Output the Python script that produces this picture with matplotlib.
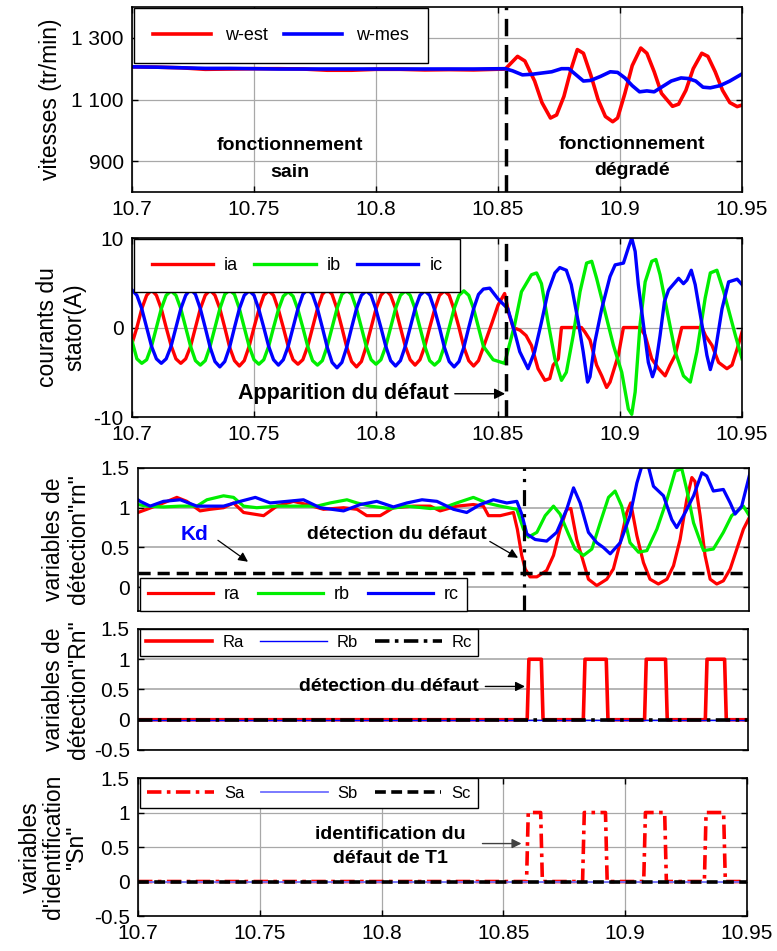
import numpy as np
import matplotlib
matplotlib.use('Agg')
import matplotlib.pyplot as plt

plt.rcParams['font.family'] = ['Liberation Sans', 'DejaVu Sans']

# ---------------- speeds (tr/min) ----------------
t_w = [10.700, 10.710, 10.720, 10.730, 10.740, 10.750, 10.760, 10.770, 10.780, 10.790,
       10.800, 10.810, 10.820, 10.830, 10.840, 10.853]
w_est_h = [1206, 1205, 1203, 1198, 1199, 1200, 1200, 1199, 1195, 1195,
           1198, 1198, 1196, 1197, 1196, 1199]
w_mes_h = [1206, 1205, 1203, 1201, 1201, 1200, 1199, 1199, 1199, 1199,
           1199, 1199, 1199, 1199, 1199, 1200]
t_west_f = [10.858, 10.861, 10.865, 10.868, 10.8715, 10.874, 10.877, 10.880, 10.8825, 10.885,
            10.888, 10.891, 10.894, 10.897, 10.899, 10.902, 10.905, 10.9085, 10.911, 10.914,
            10.917, 10.9215, 10.924, 10.927, 10.930, 10.9335, 10.936, 10.939, 10.942, 10.945,
            10.948, 10.950]
w_est_f = [1240, 1225, 1160, 1090, 1040, 1050, 1110, 1200, 1262, 1250,
           1180, 1100, 1045, 1028, 1040, 1120, 1210, 1267, 1250, 1190,
           1120, 1078, 1085, 1130, 1200, 1250, 1240, 1190, 1130, 1090,
           1077, 1082]
t_wmes_f = [10.856, 10.860, 10.864, 10.868, 10.872, 10.876, 10.879, 10.882, 10.885, 10.888,
            10.892, 10.896, 10.899, 10.902, 10.905, 10.908, 10.911, 10.914, 10.917, 10.921,
            10.925, 10.928, 10.931, 10.934, 10.937, 10.941, 10.945, 10.950]
w_mes_f = [1193, 1180, 1182, 1186, 1190, 1200, 1200, 1180, 1160, 1162,
           1175, 1190, 1188, 1170, 1145, 1125, 1128, 1125, 1140, 1160,
           1170, 1168, 1160, 1140, 1138, 1145, 1160, 1183]

# ---------------- stator currents (A) ----------------
t_i_h = [10.700, 10.702, 10.704, 10.706, 10.708, 10.710, 10.712, 10.714, 10.716, 10.718,
         10.720, 10.722, 10.724, 10.726, 10.728, 10.730, 10.732, 10.734, 10.736, 10.738,
         10.740, 10.742, 10.744, 10.746, 10.748, 10.750, 10.752, 10.754, 10.756, 10.758,
         10.760, 10.762, 10.764, 10.766, 10.768, 10.770, 10.772, 10.774, 10.776, 10.778,
         10.780, 10.782, 10.784, 10.786, 10.788, 10.790, 10.792, 10.794, 10.796, 10.798,
         10.800, 10.802, 10.804, 10.806, 10.808, 10.810, 10.812, 10.814, 10.816, 10.818,
         10.820, 10.822, 10.824, 10.826, 10.828, 10.830, 10.832, 10.834, 10.836, 10.838,
         10.840, 10.842, 10.844]
ia_h = [-1.8, 0.0, 2.1, 3.6, 4.2, 3.6, 2.1, 0.0, -2.0, -3.5, -4.0, -3.5,
        -2.1, 0.0, 2.1, 3.6, 4.2, 3.6, 2.1, 0.0, -2.2, -3.7, -4.3, -3.7,
        -2.1, 0.0, 2.0, 3.6, 4.1, 3.6, 2.0, 0.0, -2.1, -3.6, -4.1, -3.6,
        -2.1, 0.0, 2.1, 3.7, 4.3, 3.7, 2.1, 0.0, -2.2, -3.8, -4.4, -3.8,
        -2.1, 0.0, 2.1, 3.6, 4.2, 3.6, 2.1, 0.0, -2.1, -3.6, -4.2, -3.6,
        -2.1, 0.0, 2.0, 3.6, 4.1, 3.6, 2.0, 0.0, -2.2, -3.7, -4.3, -3.7,
        -2.2]
ib_h = [-1.5, -3.5, -4.0, -3.6, -2.1, 0.0, 2.1, 3.6, 4.1, 3.6, 2.1, 0.0,
        -2.1, -3.7, -4.2, -3.7, -2.1, 0.0, 2.1, 3.7, 4.2, 3.7, 2.1, 0.0,
        -2.1, -3.6, -4.1, -3.6, -2.1, 0.0, 2.0, 3.5, 4.0, 3.5, 2.0, 0.0,
        -2.1, -3.7, -4.2, -3.7, -2.1, 0.0, 2.1, 3.7, 4.2, 3.7, 2.1, 0.0,
        -2.1, -3.6, -4.1, -3.6, -2.1, 0.0, 2.1, 3.6, 4.1, 3.6, 2.1, 0.0,
        -2.1, -3.7, -4.2, -3.7, -2.1, 0.0, 2.1, 3.6, 4.1, 3.6, 2.1, 0.0,
        -2.1]
ic_h = [4.2, 3.6, 2.1, 0.0, -2.1, -3.5, -4.0, -3.5, -2.1, 0.0, 2.1, 3.6,
        4.3, 3.7, 2.1, 0.0, -2.2, -3.8, -4.4, -3.8, -2.2, 0.0, 2.1, 3.6,
        4.1, 3.6, 2.0, 0.0, -2.1, -3.6, -4.2, -3.6, -2.1, 0.0, 2.1, 3.7,
        4.3, 3.7, 2.1, 0.0, -2.2, -3.9, -4.5, -3.9, -2.2, 0.0, 2.1, 3.6,
        4.1, 3.6, 2.0, 0.0, -2.1, -3.7, -4.3, -3.7, -2.1, 0.0, 2.1, 3.6,
        4.1, 3.6, 2.0, 0.0, -2.2, -3.8, -4.4, -3.8, -2.2, 0.0, 2.1, 3.7,
        4.3]
t_ia_f = [10.8475, 10.8500, 10.8527, 10.8545, 10.8562, 10.8590, 10.8615, 10.8637, 10.8664, 10.8692,
          10.8712, 10.8726, 10.8747, 10.8760, 10.8842, 10.8856, 10.8877, 10.8904, 10.8925, 10.8945,
          10.8959, 10.8993, 10.9014, 10.9082, 10.9103, 10.9130, 10.9158, 10.9185, 10.9205, 10.9226,
          10.9253, 10.9336, 10.9350, 10.9377, 10.9404, 10.9438, 10.9459, 10.9480, 10.9500]
ia_f = [0.5, 2.5, 3.8, 1.5, 0.0, -0.3, -0.9, -2.0, -4.6, -5.9,
        -5.7, -4.2, -3.5, 0.0, 0.0, -0.5, -1.4, -4.2, -5.4, -6.7,
        -6.1, -3.1, 0.0, 0.0, -0.9, -3.5, -4.6, -5.4, -4.2, -3.1,
        0.0, 0.0, -0.9, -2.0, -3.9, -4.6, -4.2, -2.4, -0.5]
t_ib_f = [10.8480, 10.8527, 10.8568, 10.8596, 10.8637, 10.8658, 10.8678, 10.8705, 10.8733, 10.8760,
          10.8780, 10.8808, 10.8836, 10.8863, 10.8884, 10.8904, 10.8938, 10.8973, 10.9007, 10.9034,
          10.9048, 10.9062, 10.9082, 10.9103, 10.9130, 10.9147, 10.9164, 10.9199, 10.9226, 10.9260,
          10.9288, 10.9315, 10.9349, 10.9370, 10.9397, 10.9425, 10.9473, 10.9500]
ib_f = [-3.6, -4.0, 0.3, 4.0, 5.9, 6.1, 4.9, 0.6, -3.5, -5.9,
        -5.0, -0.9, 4.0, 7.2, 7.4, 5.5, 1.8, -2.0, -5.0, -9.1,
        -9.7, -7.2, 0.3, 5.1, 7.4, 7.6, 5.9, 1.0, -2.7, -5.4,
        -6.1, -2.7, 3.3, 6.1, 6.4, 4.0, -0.9, -3.5]
t_ic_f = [10.8466, 10.8500, 10.8540, 10.8568, 10.8589, 10.8623, 10.8650, 10.8678, 10.8705, 10.8733,
          10.8753, 10.8780, 10.8800, 10.8829, 10.8849, 10.8867, 10.8877, 10.8897, 10.8925, 10.8959,
          10.8980, 10.9014, 10.9034, 10.9048, 10.9062, 10.9075, 10.9096, 10.9116, 10.9133, 10.9144,
          10.9164, 10.9182, 10.9199, 10.9240, 10.9260, 10.9274, 10.9292, 10.9308, 10.9336, 10.9356,
          10.9370, 10.9390, 10.9418, 10.9445, 10.9480, 10.9500]
ic_f = [4.4, 3.2, 2.1, -0.5, -2.7, -4.6, -2.7, 0.6, 4.0, 6.1,
        6.7, 6.4, 4.8, 0.6, -2.7, -6.1, -5.5, -1.6, 2.1, 5.7,
        7.0, 7.2, 8.9, 10.0, 8.5, 4.8, 0.3, -3.9, -5.5, -4.6,
        -0.9, 2.9, 4.2, 5.5, 4.9, 5.3, 6.4, 4.8, 0.3, -3.1,
        -4.7, -2.7, 2.1, 5.1, 5.4, 4.8]

# ---------------- detection variables rn ----------------
t_ra = [10.700, 10.7036, 10.7104, 10.7159, 10.7200, 10.7254, 10.7295, 10.7350, 10.7391, 10.7432,
        10.7514, 10.7568, 10.7636, 10.7691, 10.7759, 10.7841, 10.7896, 10.7936, 10.7991, 10.8045,
        10.8127, 10.8196, 10.8236, 10.8304, 10.8372, 10.8413, 10.8434, 10.8482, 10.8536, 10.8552,
        10.8570, 10.8584, 10.8604, 10.8632, 10.8672, 10.8700, 10.8727, 10.8754, 10.8771, 10.8795,
        10.8823, 10.8843, 10.8877, 10.8918, 10.8945, 10.8973, 10.9000, 10.9016, 10.9041, 10.9068,
        10.9095, 10.9129, 10.9164, 10.9191, 10.9218, 10.9245, 10.9266, 10.9279, 10.9300, 10.9320,
        10.9341, 10.9368, 10.9395, 10.9423, 10.9450, 10.9477, 10.9505]
ra = [0.94, 0.98, 1.06, 1.13, 1.08, 0.96, 0.98, 1.00, 1.06, 0.94,
      0.90, 1.02, 1.08, 1.04, 0.98, 1.00, 0.98, 0.90, 0.90, 1.00,
      1.02, 1.02, 0.96, 1.02, 1.04, 1.02, 0.90, 0.90, 0.94, 0.73,
      0.40, 0.23, 0.13, 0.13, 0.21, 0.40, 0.73, 0.98, 0.99, 0.60,
      0.31, 0.10, 0.02, 0.10, 0.23, 0.56, 0.94, 1.06, 0.65, 0.31,
      0.10, 0.04, 0.10, 0.27, 0.60, 1.10, 1.38, 1.33, 0.90, 0.40,
      0.10, 0.04, 0.08, 0.23, 0.48, 0.73, 0.90]
t_rb = [10.700, 10.7036, 10.7104, 10.7173, 10.7241, 10.7282, 10.7350, 10.7391, 10.7432, 10.7486,
        10.7568, 10.7650, 10.7732, 10.7786, 10.7855, 10.7896, 10.7950, 10.8032, 10.8100, 10.8196,
        10.8250, 10.8304, 10.8372, 10.8427, 10.8482, 10.8550, 10.8577, 10.8597, 10.8632, 10.8666,
        10.8700, 10.8727, 10.8761, 10.8788, 10.8823, 10.8857, 10.8891, 10.8925, 10.8952, 10.8979,
        10.9013, 10.9048, 10.9082, 10.9123, 10.9164, 10.9198, 10.9225, 10.9245, 10.9273, 10.9314,
        10.9354, 10.9395, 10.9429, 10.9477, 10.9505]
rb = [1.04, 1.02, 1.01, 1.02, 1.02, 1.10, 1.15, 1.13, 1.02, 1.00,
      1.02, 1.02, 1.02, 1.06, 1.10, 1.06, 1.02, 0.99, 1.02, 0.99,
      1.00, 1.06, 1.13, 1.06, 1.02, 0.98, 0.73, 0.63, 0.69, 0.90,
      1.02, 0.92, 0.67, 0.48, 0.40, 0.48, 0.81, 1.13, 1.21, 1.02,
      0.56, 0.44, 0.46, 0.73, 1.10, 1.46, 1.49, 1.23, 0.81, 0.46,
      0.48, 0.69, 0.90, 1.02, 0.88]
t_rc = [10.700, 10.7009, 10.7050, 10.7104, 10.7173, 10.7241, 10.7350, 10.7418, 10.7480, 10.7541,
        10.7609, 10.7677, 10.7745, 10.7841, 10.7909, 10.7977, 10.8045, 10.8100, 10.8162, 10.8223,
        10.8291, 10.8345, 10.8400, 10.8454, 10.8509, 10.8550, 10.8570, 10.8591, 10.8625, 10.8672,
        10.8713, 10.8754, 10.8782, 10.8809, 10.8843, 10.8877, 10.8904, 10.8932, 10.8973, 10.9013,
        10.9041, 10.9061, 10.9088, 10.9109, 10.9150, 10.9184, 10.9204, 10.9239, 10.9273, 10.9307,
        10.9327, 10.9354, 10.9395, 10.9423, 10.9443, 10.9470, 10.9505]
rc = [1.10, 1.08, 1.02, 1.08, 1.10, 1.02, 1.02, 1.08, 1.13, 1.06,
      1.08, 1.10, 1.00, 0.96, 1.04, 1.08, 1.01, 1.06, 1.10, 1.08,
      0.98, 0.94, 1.04, 1.10, 1.06, 1.08, 0.92, 0.67, 0.60, 0.58,
      0.69, 0.98, 1.25, 1.06, 0.69, 0.56, 0.50, 0.42, 0.56, 0.90,
      1.31, 1.52, 1.52, 1.27, 1.15, 0.85, 0.75, 0.94, 1.15, 1.44,
      1.40, 1.21, 1.23, 1.06, 0.92, 1.02, 1.45]
Kd = 0.18

# ---------------- detection / identification flags ----------------
t_flag = [10.700, 10.8595, 10.8602, 10.8653, 10.8660, 10.8825, 10.8832, 10.8919, 10.8926,
          10.9076, 10.9083, 10.9162, 10.9169, 10.9325, 10.9332, 10.9404, 10.9411, 10.950]
Ra = [0, 0, 1, 1, 0, 0, 1, 1, 0, 0, 1, 1, 0, 0, 1, 1, 0, 0]
Sa = [0, 0, 1, 1, 0, 0, 1, 1, 0, 0, 1, 1, 0, 0, 1, 1, 0, 0]
t_zero = [10.700, 10.950]
Rb = [0, 0]
Rc = [0, 0]
Sb = [0, 0]
Sc = [0, 0]

t_fault = 10.8532
t_detect = 10.858

xticks = [10.7, 10.75, 10.8, 10.85, 10.9, 10.95]
xticklabels = ['10.7', '10.75', '10.8', '10.85', '10.9', '10.95']

RED, GREEN, BLUE = '#ff0000', '#00ee00', '#0000ff'
GRID = '#a8a8a8'
TICKFS = 15
LABFS = 16.5

fig = plt.figure(figsize=(7.77, 9.51), dpi=100)
ax1 = fig.add_axes([0.1699, 0.7981, 0.7851, 0.1945])
ax2 = fig.add_axes([0.1699, 0.5615, 0.7851, 0.1882])
ax3 = fig.add_axes([0.1776, 0.3575, 0.7864, 0.1504])
ax4 = fig.add_axes([0.1776, 0.2114, 0.7851, 0.1272])
ax5 = fig.add_axes([0.1776, 0.0368, 0.7838, 0.1451])

for ax in [ax1, ax2, ax3, ax4, ax5]:
    ax.set_xlim(10.7, 10.95)
    ax.tick_params(direction='in', top=True, right=True, length=4, width=1,
                   labelsize=TICKFS, pad=6)
    for s in ax.spines.values():
        s.set_linewidth(1.2)
    ax.set_axisbelow(True)

leg_kw = dict(frameon=True, fancybox=False, edgecolor='k', framealpha=1, borderaxespad=0)

# ---- panel 1 : speeds
ax1.plot(t_w + t_west_f, w_est_h + w_est_f, color=RED, lw=2.6, label='w-est')
ax1.plot(t_w + t_wmes_f, w_mes_h + w_mes_f, color=BLUE, lw=2.6, label='w-mes')
ax1.axvline(t_fault, color='k', ls=(0, (5, 2.5)), lw=2.5)
ax1.set_ylim(800, 1400)
ax1.set_yticks([900, 1100, 1300])
ax1.set_yticklabels(['900', '1 100', '1 300'])
ax1.set_xticks(xticks)
ax1.set_xticklabels(xticklabels)
ax1.grid(True, color=GRID, lw=0.9)
ax1.set_ylabel('vitesses (tr/min)', fontsize=LABFS)
ax1.yaxis.set_label_coords(-0.115, 0.5)
ax1.legend(loc='upper left', ncol=2, fontsize=13, borderpad=1.05, handlelength=3.2,
           handletextpad=0.8, columnspacing=0.9, bbox_to_anchor=(0.003, 0.995), **leg_kw)
ax1.text(10.7648, 907, 'fonctionnement\nsain', fontsize=14, fontweight='bold',
         ha='center', va='center', linespacing=1.7)
ax1.text(10.905, 913, 'fonctionnement\ndégradé', fontsize=14, fontweight='bold',
         ha='center', va='center', linespacing=1.7)

# ---- panel 2 : currents
ax2.plot(t_i_h + t_ia_f, ia_h + ia_f, color=RED, lw=2.4, label='ia')
ax2.plot(t_i_h + t_ib_f, ib_h + ib_f, color=GREEN, lw=2.4, label='ib')
ax2.plot(t_i_h + t_ic_f, ic_h + ic_f, color=BLUE, lw=2.4, label='ic')
ax2.axvline(t_fault, color='k', ls=(0, (5, 2.5)), lw=2.5)
ax2.set_ylim(-10, 10)
ax2.set_yticks([-10, 0, 10])
ax2.set_yticklabels(['-10', '0', '10'])
ax2.set_xticks(xticks)
ax2.set_xticklabels(xticklabels)
ax2.grid(True, color=GRID, lw=0.9)
ax2.set_ylabel('courants du\nstator(A)', fontsize=LABFS, linespacing=1.25)
ax2.yaxis.set_label_coords(-0.075, 0.5)
ax2.legend(loc='upper left', ncol=3, fontsize=13, borderpad=1.0, handlelength=3.4,
           handletextpad=0.6, columnspacing=0.9, bbox_to_anchor=(0.003, 0.995), **leg_kw)
ax2.annotate('Apparition du défaut', xy=(t_fault - 0.0003, -7.4), xytext=(10.8300, -7.4),
             fontsize=15.5, fontweight='bold', ha='right', va='center',
             arrowprops=dict(arrowstyle='-|>', color='k', lw=1.0, mutation_scale=16,
                             shrinkA=2, shrinkB=0))

# ---- panel 3 : rn
ax3.plot(t_ra, ra, color=RED, lw=2.3, label='ra')
ax3.plot(t_rb, rb, color=GREEN, lw=2.3, label='rb')
ax3.plot(t_rc, rc, color=BLUE, lw=2.3, label='rc')
ax3.axhline(Kd, color='k', ls=(0, (3.5, 2)), lw=2.5, zorder=6)
ax3.axvline(t_detect, color='k', ls=(0, (5, 2.5, 1, 2.5)), lw=2.3)
ax3.set_ylim(-0.3, 1.5)
ax3.set_yticks([0, 0.5, 1, 1.5])
ax3.set_yticklabels(['0', '0.5', '1', '1.5'])
ax3.set_xticks([])
ax3.yaxis.grid(True, color=GRID, lw=1.2)
ax3.set_ylabel('variables de\ndétection"rn"', fontsize=LABFS, linespacing=1.12)
ax3.yaxis.set_label_coords(-0.079, 0.5)
ax3.legend(loc='lower left', ncol=3, fontsize=13, borderpad=0.45, handlelength=3.6,
           handletextpad=0.6, columnspacing=1.0, bbox_to_anchor=(0.003, 0.0), **leg_kw)
ax3.annotate('', xy=(10.745, 0.32), xytext=(10.7327, 0.59),
             arrowprops=dict(arrowstyle='-|>', color='k', lw=0.9, mutation_scale=14,
                             shrinkA=0, shrinkB=0))
ax3.text(10.7233, 0.66, 'Kd', color=BLUE, fontsize=15, fontweight='bold',
         ha='center', va='center')
ax3.annotate('détection du défaut', xy=(10.8555, 0.37), xytext=(10.8428, 0.66),
             fontsize=14, fontweight='bold', ha='right', va='center',
             arrowprops=dict(arrowstyle='-|>', color='k', lw=0.9, mutation_scale=14,
                             shrinkA=0, shrinkB=0, relpos=(1.0, 0.2)))

# ---- panel 4 : Rn
ax4.plot(t_flag, Ra, color=RED, lw=2.6, label='Ra')
ax4.plot(t_zero, Rb, color=BLUE, lw=1.0, label='Rb')
ax4.plot(t_zero, Rc, color='k', lw=2.6, ls=(0, (4, 1.5, 1, 1.5)), label='Rc')
ax4.set_ylim(-0.5, 1.5)
ax4.set_yticks([-0.5, 0, 0.5, 1, 1.5])
ax4.set_yticklabels(['-0.5', '0', '0.5', '1', '1.5'])
ax4.set_xticks([])
ax4.yaxis.grid(True, color=GRID, lw=1.2)
ax4.set_ylabel('variables de\ndétection"Rn"', fontsize=LABFS, linespacing=1.12)
ax4.yaxis.set_label_coords(-0.079, 0.5)
ax4.legend(loc='upper left', ncol=3, fontsize=12, borderpad=0.35, handlelength=4,
           handletextpad=0.6, columnspacing=1.0, bbox_to_anchor=(0.003, 1.0), **leg_kw)
ax4.annotate('détection du défaut', xy=(10.8586, 0.55), xytext=(10.8395, 0.55),
             fontsize=14, fontweight='bold', ha='right', va='center',
             arrowprops=dict(arrowstyle='-|>', color='k', lw=1.0, mutation_scale=14,
                             shrinkA=3, shrinkB=0))

# ---- panel 5 : Sn
ax5.plot(t_flag, Sa, color=RED, lw=2.6, ls=(0, (4, 1.5, 1, 1.5)), label='Sa')
ax5.plot(t_zero, Sb, color='#6f6fff', lw=1.3, label='Sb')
ax5.plot(t_zero, Sc, color='k', lw=2.6, ls=(0, (3, 1.5)), label='Sc')
ax5.set_ylim(-0.5, 1.5)
ax5.set_yticks([-0.5, 0, 0.5, 1, 1.5])
ax5.set_yticklabels(['-0.5', '0', '0.5', '1', '1.5'])
ax5.set_xticks(xticks)
ax5.set_xticklabels(xticklabels)
ax5.grid(True, color=GRID, lw=0.9)
ax5.set_ylabel('variables\nd\'identification\n"Sn"', fontsize=LABFS, linespacing=1.0)
ax5.yaxis.set_label_coords(-0.082, 0.5)
ax5.legend(loc='upper left', ncol=3, fontsize=12, borderpad=0.45, handlelength=4,
           handletextpad=0.6, columnspacing=1.0, bbox_to_anchor=(0.003, 1.0), **leg_kw)
ax5.annotate('', xy=(10.8574, 0.55), xytext=(10.8414, 0.55),
             arrowprops=dict(arrowstyle='-|>', color='#404040', lw=1.0, mutation_scale=14,
                             shrinkA=0, shrinkB=0))
ax5.text(10.8037, 0.51, 'identification du\ndéfaut de T1', fontsize=14, fontweight='bold',
         ha='center', va='center', linespacing=1.5)

fig.savefig('out.png', dpi=100)
plt.close(fig)
